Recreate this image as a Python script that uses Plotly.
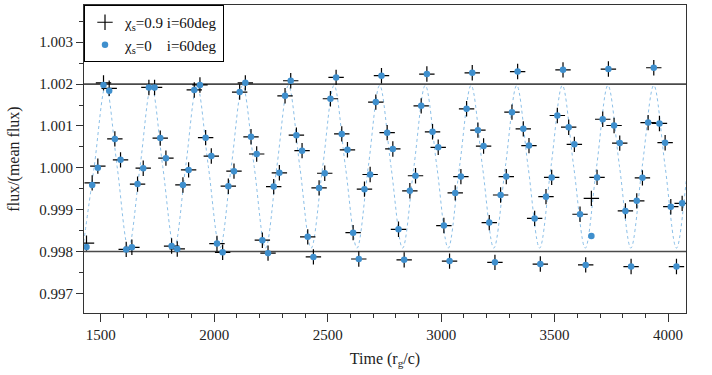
import plotly.graph_objects as go

# ---------------- data ----------------
time = [1437, 1462, 1487, 1512, 1537, 1562, 1587, 1612, 1637, 1662,
        1687, 1712, 1737, 1762, 1787, 1812, 1837, 1862, 1887, 1912,
        1937, 1962, 1987, 2012, 2037, 2062, 2087, 2112, 2137, 2162,
        2187, 2212, 2237, 2262, 2287, 2312, 2337, 2362, 2387, 2412,
        2437, 2462, 2487, 2512, 2537, 2562, 2587, 2612, 2637, 2662,
        2687, 2712, 2737, 2762, 2787, 2812, 2837, 2862, 2887, 2912,
        2937, 2962, 2987, 3012, 3037, 3062, 3087, 3112, 3137, 3162,
        3187, 3212, 3237, 3262, 3287, 3312, 3337, 3362, 3387, 3412,
        3437, 3462, 3487, 3512, 3537, 3562, 3587, 3612, 3637, 3662,
        3687, 3712, 3737, 3762, 3787, 3812, 3837, 3862, 3887, 3912,
        3937, 3962, 3987, 4012, 4037, 4062]

flux_chi0 = [0.99811, 0.99959, 1.00000, 1.00198, 1.00184, 1.00069, 1.00019, 0.99805, 0.99810, 0.99961,
             0.99999, 1.00192, 1.00192, 1.00071, 1.00023, 0.99813, 0.99806, 0.99959, 0.99995, 1.00186,
             1.00198, 1.00072, 1.00028, 0.99819, 0.99798, 0.99956, 0.99992, 1.00181, 1.00203, 1.00074,
             1.00033, 0.99827, 0.99796, 0.99955, 0.99988, 1.00172, 1.00208, 1.00078, 1.00041, 0.99835,
             0.99787, 0.99952, 0.99987, 1.00165, 1.00216, 1.00081, 1.00043, 0.99845, 0.99782, 0.99949,
             0.99984, 1.00157, 1.00220, 1.00084, 1.00045, 0.99853, 0.99780, 0.99945, 0.99981, 1.00148,
             1.00224, 1.00086, 1.00049, 0.99862, 0.99777, 0.99940, 0.99979, 1.00141, 1.00227, 1.00090,
             1.00052, 0.99869, 0.99774, 0.99935, 0.99979, 1.00133, 1.00230, 1.00093, 1.00053, 0.99879,
             0.99770, 0.99931, 0.99977, 1.00125, 1.00234, 1.00097, 1.00056, 0.99889, 0.99768, 0.99837,
             0.99977, 1.00116, 1.00236, 1.00101, 1.00059, 0.99897, 0.99764, 0.99921, 0.99976, 1.00108,
             1.00239, 1.00106, 1.00060, 0.99907, 0.99764, 0.99915]

flux_chi09 = [0.99820, 0.99964, 1.00004, 1.00203, 1.00190, 1.00069, 1.00019, 0.99805, 0.99810, 0.99961,
              0.99999, 1.00192, 1.00192, 1.00071, 1.00023, 0.99813, 0.99806, 0.99959, 0.99995, 1.00186,
              1.00198, 1.00072, 1.00028, 0.99819, 0.99798, 0.99956, 0.99992, 1.00181, 1.00203, 1.00074,
              1.00033, 0.99827, 0.99796, 0.99955, 0.99988, 1.00172, 1.00208, 1.00078, 1.00041, 0.99835,
              0.99787, 0.99952, 0.99987, 1.00165, 1.00216, 1.00081, 1.00043, 0.99845, 0.99782, 0.99949,
              0.99984, 1.00157, 1.00220, 1.00084, 1.00045, 0.99853, 0.99780, 0.99945, 0.99981, 1.00148,
              1.00224, 1.00086, 1.00049, 0.99862, 0.99777, 0.99940, 0.99979, 1.00141, 1.00227, 1.00090,
              1.00052, 0.99869, 0.99774, 0.99935, 0.99979, 1.00133, 1.00230, 1.00093, 1.00053, 0.99879,
              0.99770, 0.99931, 0.99977, 1.00125, 1.00234, 1.00097, 1.00056, 0.99889, 0.99768, 0.99927,
              0.99977, 1.00116, 1.00236, 1.00101, 1.00059, 0.99897, 0.99764, 0.99921, 0.99976, 1.00108,
              1.00239, 1.00106, 1.00060, 0.99907, 0.99764, 0.99915]

# dotted model curve: extrema and mean crossings
curve_time = [1421, 1471, 1522, 1572, 1622, 1673, 1723, 1773, 1824, 1874,
              1924, 1974, 2025, 2075, 2125, 2176, 2226, 2276, 2327, 2377,
              2427, 2478, 2528, 2578, 2629, 2679, 2729, 2779, 2830, 2880,
              2930, 2981, 3031, 3081, 3132, 3182, 3232, 3283, 3333, 3383,
              3434, 3484, 3534, 3584, 3635, 3685, 3735, 3786, 3836, 3886,
              3937, 3987, 4037, 4088, 4138]
curve_flux = [0.99808, 1.00003, 1.00197, 1.00003, 0.99808, 1.00003, 1.00197, 1.00003, 0.99808, 1.00003,
              1.00197, 1.00003, 0.99808, 1.00003, 1.00197, 1.00003, 0.99808, 1.00003, 1.00197, 1.00003,
              0.99808, 1.00003, 1.00197, 1.00003, 0.99808, 1.00003, 1.00197, 1.00003, 0.99808, 1.00003,
              1.00197, 1.00003, 0.99808, 1.00003, 1.00197, 1.00003, 0.99808, 1.00003, 1.00197, 1.00003,
              0.99808, 1.00003, 1.00197, 1.00003, 0.99808, 1.00003, 1.00197, 1.00003, 0.99808, 1.00003,
              1.00197, 1.00003, 0.99808, 1.00003, 1.00197]

ref_levels = [0.998, 1.002]
x_ticks = [1500, 2000, 2500, 3000, 3500, 4000]
y_ticks = [0.997, 0.998, 0.999, 1.000, 1.001, 1.002, 1.003]
label_chi09 = "\u03c7<sub>s</sub>=0.9\u00a0i=60deg"
label_chi0 = "\u03c7<sub>s</sub>=0\u00a0\u00a0\u00a0\u00a0i=60deg"

FONT = "'Liberation Serif', 'Times New Roman', 'DejaVu Serif', serif"
BLUE = "#3f8fcd"

fig = go.Figure()
fig.add_trace(go.Scatter(x=curve_time, y=curve_flux, mode="lines",
                         line=dict(color="#8cc0e8", width=1, dash="dot", shape="spline"),
                         showlegend=False, hoverinfo="skip"))
fig.add_trace(go.Scatter(x=time, y=flux_chi09, mode="markers", name=label_chi09,
                         marker=dict(symbol="cross-thin", size=11, color="black",
                                     line=dict(color="black", width=1.2))))
fig.add_trace(go.Scatter(x=time, y=flux_chi0, mode="markers", name=label_chi0,
                         marker=dict(symbol="circle", size=6.5, color=BLUE, line=dict(width=0))))

for lv in ref_levels:
    fig.add_hline(y=lv, line=dict(color="#4a4a4a", width=1.6), layer="below")

tickfont = dict(family=FONT, size=15, color="#222")
fig.update_layout(
    width=712, height=375,
    margin=dict(l=84, r=26, t=5, b=62),
    paper_bgcolor="white", plot_bgcolor="white",
    font=dict(family=FONT, size=15, color="#222"),
    legend=dict(x=0, y=1, xanchor="left", yanchor="top",
                bordercolor="black", borderwidth=1, bgcolor="white",
                font=dict(family=FONT, size=15, color="#111"),
                tracegroupgap=0),
)
fig.update_xaxes(range=[1426, 4079], tickvals=x_ticks, ticks="outside", ticklen=8,
                 tickfont=tickfont,
                 tickcolor="#333", showline=True, linecolor="#333", linewidth=1.2,
                 mirror=True, showgrid=False, zeroline=False,
                 minor=dict(dtick=100, ticks="outside", ticklen=4, tickcolor="#333"),
                 title=dict(text="Time (r<sub>g</sub>/c)", font=dict(family=FONT, size=16),
                            standoff=10))
fig.update_yaxes(range=[0.99653, 1.00389], tickvals=y_ticks, tickformat=".3f",
                 ticks="outside", ticklen=7, tickcolor="#333", tickfont=tickfont,
                 showline=True, linecolor="#333", linewidth=1.2, mirror=True,
                 showgrid=False, zeroline=False,
                 minor=dict(dtick=0.0005, tick0=0.997, ticks="outside", ticklen=4, tickcolor="#333"),
                 title=dict(text="flux/(mean flux)", font=dict(family=FONT, size=16)))

fig.write_html("out.html", config={"displayModeBar": False},
               post_script="document.body.style.margin='0';")
